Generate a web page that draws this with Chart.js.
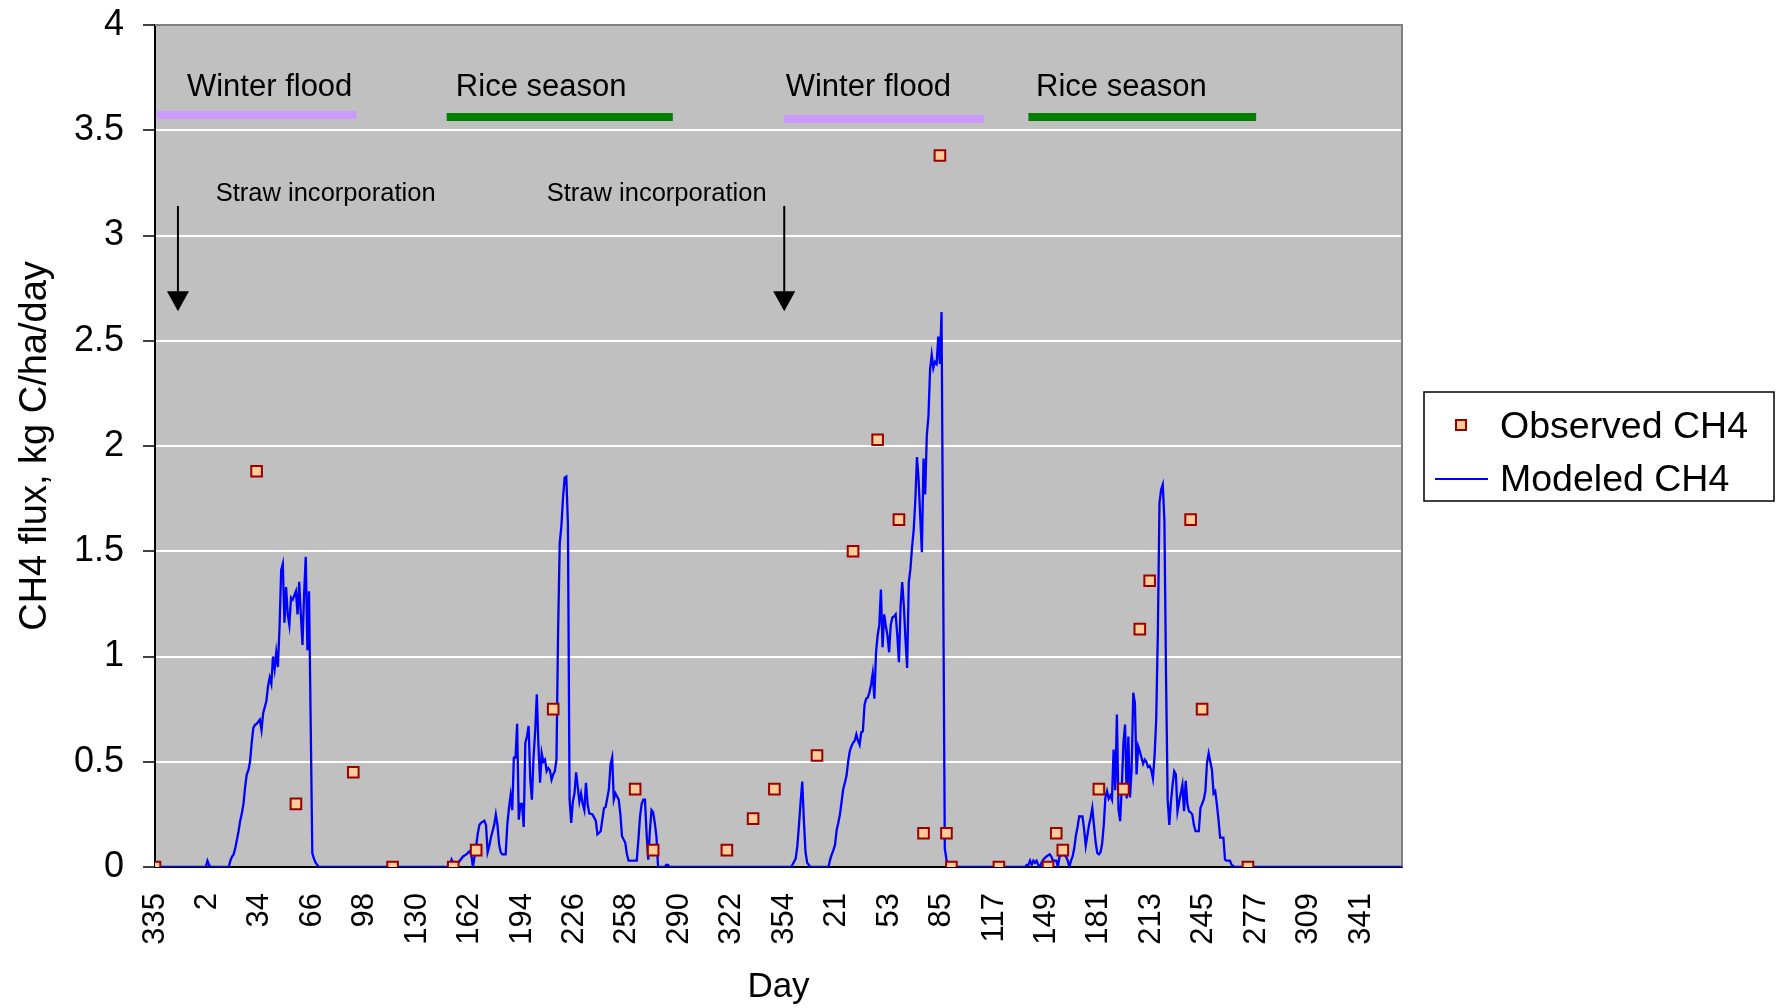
<!DOCTYPE html>
<html>
<head>
<meta charset="utf-8">
<script src="https://cdn.jsdelivr.net/npm/chart.js@4.4.1/dist/chart.umd.min.js"></script>
<style>
  body { margin: 0; background: #fff; }
  #wrap { width: 1777px; height: 1008px; }
</style>
</head>
<body>
<div id="wrap"><canvas id="ch4Chart" width="1777" height="1008"></canvas></div>
<script>
// x values are day offsets from day 335 of the first year
const xTickLabels = ['335', '2', '34', '66', '98', '130', '162', '194', '226', '258', '290', '322',
    '354', '21', '53', '85', '117', '149', '181', '213', '245', '277', '309', '341'];
const xTickStep = 32;

// Observed CH4 flux (kg C/ha/day)
const obsDay = [0, 62, 86, 121, 145, 182, 196, 243, 293, 304, 349, 365, 378, 404, 426, 441,
    454, 469, 479, 483, 486, 515, 545, 550, 554, 576, 591, 601, 607, 632, 639, 667];
const obsFlux = [0, 1.88, 0.30, 0.45, 0, 0, 0.08, 0.75, 0.37, 0.08, 0.08, 0.23, 0.37, 0.53, 1.50, 2.03,
    1.65, 0.16, 3.38, 0.16, 0, 0, 0, 0.16, 0.08, 0.37, 0.37, 1.13, 1.36, 1.65, 0.75, 0];

// Modeled CH4 flux, [day, flux]
const modeledCH4 = [
    [0,0],[31,0],[32,0.03],[33,0.01],[34,0],[45,0],[46,0.03],[47,0.05],[48,0.06],[49,0.09],[50,0.13],
    [51,0.17],[52,0.22],[53,0.255],[54,0.3],[55,0.38],[56,0.44],[57,0.46],[58,0.5],[59,0.59],[60,0.66],
    [61,0.675],[62,0.68],[63,0.69],[64,0.7],[65,0.65],[66,0.73],[67,0.76],[68,0.79],[69,0.86],[70,0.9],
    [71,0.87],[72,1.0],[73,0.94],[74,1.02],[75,0.95],[76,1.14],[77,1.41],[78,1.44],[79,1.16],[80,1.33],
    [81,1.2],[82,1.15],[83,1.28],[84,1.27],[85,1.29],[86,1.31],[87,1.2],[88,1.355],[89,1.2],[90,1.055],
    [91,1.3],[92,1.474],[93,1.03],[94,1.31],[95,0.69],[96,0.065],[97,0.04],[98,0.02],[100,0],
    [180,0],[181,0.035],[182,0.02],[184,0.01],[186,0.03],[188,0.05],[190,0.06],[192,0.075],[193,0.06],
    [194,0],[195,0.05],[196,0.1],[197,0.16],[198,0.2],[199,0.21],[201,0.22],[202,0.2],[203,0.07],
    [204,0.1],[205,0.14],[206,0.17],[207,0.2],[208,0.25],[209,0.2],[210,0.107],[211,0.07],[212,0.06],
    [214,0.06],[215,0.2],[216,0.28],[217,0.34],[218,0.27],[219,0.52],[220,0.52],[221,0.68],[222,0.225],
    [223,0.3],[224,0.3],[225,0.19],[226,0.59],[227,0.62],[228,0.67],[229,0.42],[230,0.32],[231,0.52],
    [232,0.645],[233,0.82],[234,0.58],[235,0.4],[236,0.54],[237,0.5],[238,0.51],[239,0.455],[240,0.47],
    [241,0.46],[242,0.415],[243,0.44],[244,0.455],[245,0.51],[246,1.12],[247,1.54],[248,1.62],
    [249,1.754],[250,1.85],[251,1.855],[252,1.627],[253,0.32],[254,0.21],[255,0.31],[256,0.35],
    [257,0.45],[258,0.38],[259,0.31],[260,0.35],[261,0.3],[262,0.27],[263,0.4],[264,0.3],[265,0.255],
    [267,0.25],[269,0.22],[270,0.155],[272,0.17],[274,0.28],[275,0.285],[277,0.37],[278,0.487],
    [279,0.52],[280,0.32],[281,0.35],[283,0.32],[284,0.25],[285,0.146],[287,0.115],[288,0.06],
    [289,0.03],[292,0.03],[294,0.03],[295,0.13],[296,0.24],[297,0.3],[298,0.32],[299,0.32],[300,0.16],
    [301,0.035],[302,0.17],[303,0.27],[304,0.26],[305,0.21],[306,0.146],[307,0],[311,0],[312,0.01],
    [313,0.01],[314,0],
    [388,0],[389,0.01],[391,0.04],[392,0.1],[393,0.2],[394,0.31],[395,0.406],[396,0.22],[397,0.07],
    [398,0.02],[399,0.01],[400,0],[411,0],[412,0.035],[413,0.06],[414,0.08],[415,0.105],[416,0.176],
    [417,0.21],[418,0.25],[419,0.31],[420,0.37],[421,0.4],[422,0.433],[423,0.5],[424,0.55],[425,0.574],
    [426,0.59],[427,0.6],[428,0.63],[429,0.6],[430,0.58],[431,0.64],[432,0.645],[433,0.77],[434,0.8],
    [435,0.805],[436,0.83],[437,0.867],[438,0.92],[439,0.8],[440,1.017],[441,1.1],[442,1.15],
    [443,1.318],[444,1.044],[445,1.2],[446,1.145],[447,1.1],[448,1.02],[449,1.15],[450,1.185],
    [451,1.19],[452,1.2],[453,1.1],[454,0.973],[455,1.24],[456,1.353],[457,1.24],[458,1.08],
    [459,0.946],[460,1.35],[461,1.416],[462,1.52],[463,1.6],[464,1.743],[465,1.947],[466,1.84],
    [467,1.663],[468,1.495],[469,1.94],[470,1.77],[471,2.05],[472,2.14],[473,2.363],[474,2.434],
    [475,2.37],[476,2.4],[477,2.39],[478,2.52],[479,2.39],[480,2.637],[481,1.38],[482,0.088],
    [483,0.035],[484,0.01],[485,0],
    [531,0],[532,0.01],[533,0.01],[534,0.03],[535,0.01],[536,0.03],[537,0.02],[538,0.03],[539,0.01],
    [540,0],[541,0.02],[542,0.035],[544,0.05],[546,0.06],[547,0.05],[548,0.03],[550,0.03],[551,0],
    [552,0.05],[554,0.06],[556,0.05],[557,0.03],[558,0],[559,0.03],[560,0.05],[561,0.09],[562,0.15],
    [563,0.19],[564,0.24],[566,0.24],[567,0.18],[568,0.1],[569,0.15],[570,0.2],[571,0.235],[572,0.28],
    [573,0.2],[574,0.12],[575,0.067],[576,0.06],[577,0.07],[578,0.11],[579,0.2],[580,0.33],[581,0.36],
    [582,0.325],[583,0.34],[584,0.32],[585,0.558],[586,0.365],[587,0.724],[588,0.273],[589,0.218],
    [590,0.38],[591,0.59],[592,0.677],[593,0.325],[594,0.62],[595,0.33],[596,0.463],[597,0.828],
    [598,0.78],[599,0.44],[600,0.574],[601,0.55],[602,0.52],[603,0.49],[604,0.51],[605,0.5],
    [606,0.475],[607,0.48],[608,0.46],[609,0.42],[610,0.527],[611,0.7],[612,1.113],[613,1.73],
    [614,1.793],[615,1.817],[616,1.65],[617,0.906],[618,0.32],[619,0.2],[620,0.31],[621,0.39],
    [622,0.455],[623,0.44],[624,0.265],[625,0.31],[626,0.35],[627,0.39],[628,0.265],[629,0.41],
    [630,0.3],[631,0.265],[632,0.26],[633,0.25],[634,0.2],[635,0.17],[637,0.17],[638,0.28],[639,0.3],
    [640,0.32],[641,0.36],[642,0.495],[643,0.54],[644,0.5],[645,0.463],[646,0.35],[647,0.36],
    [648,0.3],[649,0.226],[650,0.14],[652,0.14],[653,0.035],[654,0.03],[656,0.03],[657,0.01],
    [659,0],[761,0]
];

// Season periods (day offsets) and their labels
const seasonNames = ['Winter flood', 'Rice season', 'Winter flood', 'Rice season'];
const seasonStart = [1, 178, 384, 533];
const seasonEnd = [123, 316, 506, 672];
const strawDay = [14, 384];

const FONT = '"Liberation Sans", Arial, Helvetica, sans-serif';
Chart.defaults.font.family = FONT;
Chart.defaults.color = '#000';

// annotation layout (in data units)
const seasonColors = ['#CC99FF', '#008000', '#CC99FF', '#008000'];
const seasonBarY = [3.572, 3.563, 3.553, 3.563];
const seasonTextX = [19.5, 183.6, 384.9, 537.7];
const strawTextX = [37, 239];

const plotDecor = {
    id: 'plotDecor',
    beforeDraw(chart) {
        const { ctx, chartArea: a } = chart;
        ctx.save();
        ctx.fillStyle = '#fff';
        ctx.fillRect(0, 0, chart.width, chart.height);
        ctx.fillStyle = '#C0C0C0';
        ctx.fillRect(a.left, a.top, a.right - a.left, a.bottom - a.top);
        ctx.restore();
    },
    beforeDatasetsDraw(chart) {
        const { ctx, chartArea: a, scales: { x, y } } = chart;
        ctx.save();
        // plot frame (top / right)
        ctx.strokeStyle = '#808080';
        ctx.lineWidth = 2;
        ctx.beginPath();
        ctx.moveTo(a.left, a.top);
        ctx.lineTo(a.right, a.top);
        ctx.lineTo(a.right, a.bottom);
        ctx.stroke();

        // season bars and labels
        ctx.textBaseline = 'alphabetic';
        ctx.textAlign = 'left';
        seasonNames.forEach((name, i) => {
            ctx.strokeStyle = seasonColors[i];
            ctx.lineWidth = 8;
            ctx.beginPath();
            ctx.moveTo(x.getPixelForValue(seasonStart[i]), y.getPixelForValue(seasonBarY[i]));
            ctx.lineTo(x.getPixelForValue(seasonEnd[i]), y.getPixelForValue(seasonBarY[i]));
            ctx.stroke();
            ctx.fillStyle = '#000';
            ctx.font = '31px ' + FONT;
            ctx.fillText(name, x.getPixelForValue(seasonTextX[i]), y.getPixelForValue(3.665), 172);
        });

        // straw incorporation arrows
        strawDay.forEach((d, i) => {
            const px = x.getPixelForValue(d);
            const y1 = y.getPixelForValue(3.14);
            const y2 = y.getPixelForValue(2.64);
            ctx.strokeStyle = '#000';
            ctx.lineWidth = 2;
            ctx.beginPath();
            ctx.moveTo(px, y1);
            ctx.lineTo(px, y2 - 18);
            ctx.stroke();
            ctx.fillStyle = '#000';
            ctx.beginPath();
            ctx.moveTo(px - 11, y2 - 20);
            ctx.lineTo(px + 11, y2 - 20);
            ctx.lineTo(px, y2);
            ctx.closePath();
            ctx.fill();
            ctx.font = '26px ' + FONT;
            ctx.fillText('Straw incorporation', x.getPixelForValue(strawTextX[i]), y.getPixelForValue(3.163), 220);
        });
        ctx.restore();
    },
    afterDraw(chart) {
        const { ctx } = chart;
        const obs = chart.data.datasets[0];
        const mod = chart.data.datasets[1];
        ctx.save();
        ctx.fillStyle = '#fff';
        ctx.fillRect(1424, 392, 350, 109);
        ctx.strokeStyle = '#000';
        ctx.lineWidth = 1.5;
        ctx.strokeRect(1424, 392, 350, 109);
        // observed marker
        ctx.fillStyle = obs.pointBackgroundColor;
        ctx.strokeStyle = obs.pointBorderColor;
        ctx.lineWidth = obs.pointBorderWidth;
        ctx.fillRect(1456, 420, 10, 10);
        ctx.strokeRect(1456, 420, 10, 10);
        // modeled line
        ctx.strokeStyle = mod.borderColor;
        ctx.lineWidth = 2;
        ctx.beginPath();
        ctx.moveTo(1435, 479);
        ctx.lineTo(1488, 479);
        ctx.stroke();
        ctx.fillStyle = '#000';
        ctx.font = '37.5px ' + FONT;
        ctx.textBaseline = 'alphabetic';
        ctx.textAlign = 'left';
        ctx.fillText(obs.label, 1500, 438);
        ctx.fillText(mod.label, 1500, 491);
        ctx.restore();
    }
};

const ctx = document.getElementById('ch4Chart').getContext('2d');
const ch4Chart = new Chart(ctx, {
    type: 'line',
    data: {
        datasets: [{
            label: 'Observed CH4',
            data: obsDay.map((d, i) => ({ x: d, y: obsFlux[i] })),
            showLine: false,
            pointStyle: 'rect',
            pointRadius: 7.5,
            pointBackgroundColor: '#FFCC99',
            pointBorderColor: '#990000',
            pointBorderWidth: 2,
            order: 0
        }, {
            label: 'Modeled CH4',
            data: modeledCH4.map(p => ({ x: p[0], y: p[1] })),
            borderColor: '#0000FF',
            borderWidth: 2.3,
            pointRadius: 0,
            tension: 0,
            fill: false,
            order: 1
        }]
    },
    options: {
        responsive: false,
        animation: false,
        layout: { padding: { left: 0, right: 375, top: 25, bottom: 0 } },
        plugins: {
            legend: { display: false },
            tooltip: { enabled: false }
        },
        scales: {
            x: {
                type: 'linear',
                min: 0,
                max: 761,
                afterBuildTicks: s => {
                    s.ticks = xTickLabels.map((l, i) => ({ value: i * xTickStep }));
                },
                afterFit: s => { s.height = 141; s.paddingLeft = 0; s.paddingRight = 0; },
                ticks: {
                    autoSkip: false,
                    minRotation: 90,
                    maxRotation: 90,
                    padding: 26,
                    font: { size: 31 },
                    color: '#000',
                    callback: (v, i) => xTickLabels[i]
                },
                grid: { display: true, color: 'transparent', drawTicks: false },
                border: { color: '#000', width: 2 },
                title: { display: true, text: 'Day', font: { size: 35 }, color: '#000', padding: { top: 0, bottom: 0 } }
            },
            y: {
                min: 0,
                max: 4,
                afterFit: s => { s.width = 155; s.paddingTop = 0; s.paddingBottom = 0; },
                ticks: { stepSize: 0.5, padding: 19, font: { size: 36 }, color: '#000', callback: v => String(v) },
                grid: {
                    color: c => (c.tick && c.tick.value > 0 && c.tick.value < 4) ? '#ffffff' : 'transparent',
                    lineWidth: 2,
                    tickColor: '#000',
                    tickLength: 12,
                    tickWidth: 1.5
                },
                border: { color: '#000', width: 2 },
                title: { display: true, text: 'CH4 flux, kg C/ha/day', font: { size: 38 }, color: '#000', padding: { top: 13, bottom: 0 } }
            }
        }
    },
    plugins: [plotDecor]
});
</script>
</body>
</html>
